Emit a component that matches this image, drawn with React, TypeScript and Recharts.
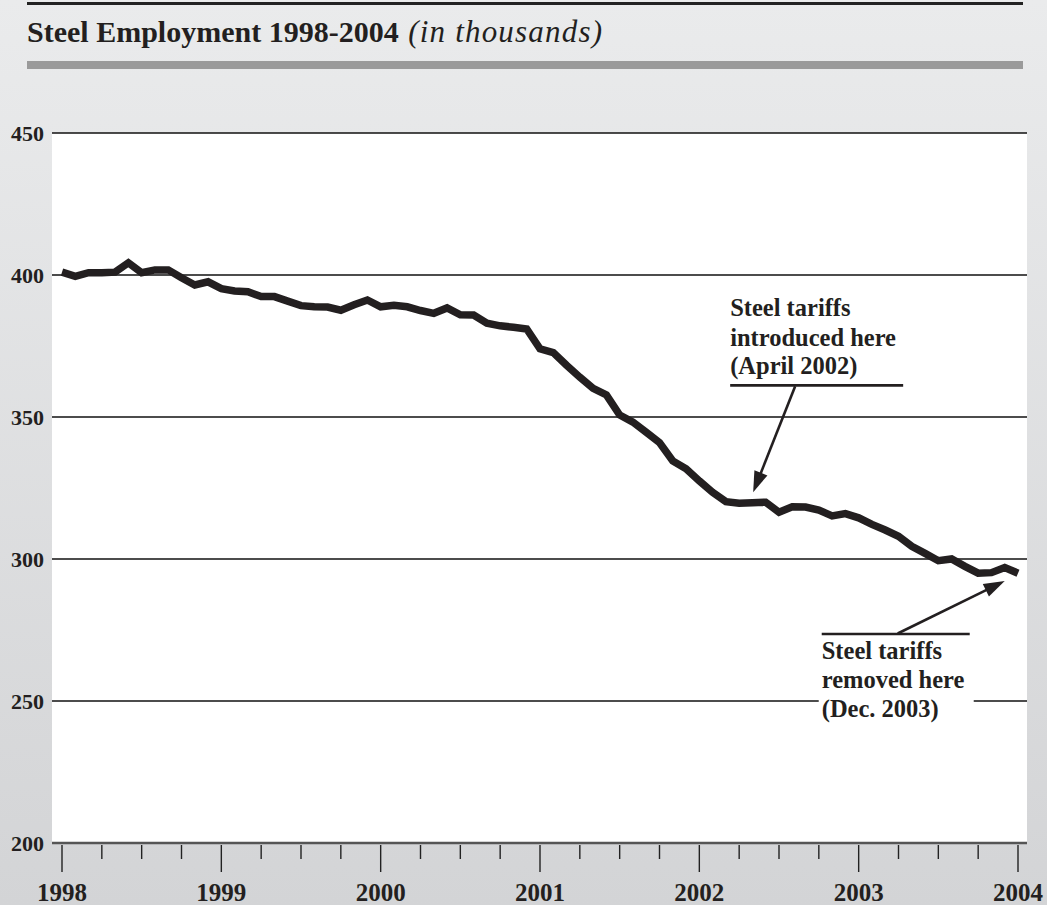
import { LineChart, Line, XAxis, YAxis, CartesianGrid, ReferenceDot } from "recharts";

// monthly steel employment, Jan 1998 .. Jan 2004 (thousands)
const EMPLOYMENT = [
  401, 399.5, 400.8, 400.8, 401, 404.3, 400.8, 401.8, 401.8, 399, 396.5, 397.6,
  395.2, 394.4, 394.1, 392.4, 392.4, 390.8, 389.2, 388.8, 388.7, 387.6, 389.5, 391.2,
  388.8, 389.3, 388.8, 387.5, 386.5, 388.4, 386, 385.9, 383, 382.1, 381.6, 381,
  374, 372.7, 368.2, 364, 360.1, 357.8, 350.7, 348.2, 344.6, 341, 334.5, 331.8,
  327.5, 323.5, 320.2, 319.6, 319.8, 320, 316.5, 318.4, 318.3, 317.2, 315.2, 316,
  314.5, 312.2, 310.2, 308, 304.5, 302, 299.4, 300, 297.4, 295, 295.2, 297,
  295,
];
const YEARS = ["1998", "1999", "2000", "2001", "2002", "2003", "2004"];
const Y_TICKS = [200, 250, 300, 350, 400, 450];
const QUARTER_TICKS = [0, 3, 6, 9, 12, 15, 18, 21, 24, 27, 30, 33, 36, 39, 42, 45, 48, 51, 54, 57, 60, 63, 66, 69, 72];
const TARIFF_IN = 51; // April 2002
const TARIFF_OUT = 71; // Dec 2003

const data = EMPLOYMENT.map((value, month) => ({ month, value }));

const INK = "#231f20";
const SERIF = "'Liberation Serif', 'Times New Roman', serif";

const MonthTick = ({ x, y, payload }: any) => {
  const m = payload.value;
  const major = m % 12 === 0;
  return (
    <g>
      <line x1={x} x2={x} y1={y + 2} y2={y + (major ? 29 : 16)} stroke="#222" strokeWidth={1.4} />
      {major && (
        <text x={x} y={y + 58} textAnchor="middle" fontFamily={SERIF} fontWeight="bold" fontSize={25} fill={INK}>
          {YEARS[m / 12]}
        </text>
      )}
    </g>
  );
};

const arrow = (x1: number, y1: number, x2: number, y2: number) => {
  const dx = x2 - x1;
  const dy = y2 - y1;
  const len = Math.hypot(dx, dy);
  const ux = dx / len;
  const uy = dy / len;
  const L = 21;
  const W = 7;
  const bx = x2 - ux * L;
  const by = y2 - uy * L;
  return (
    <g>
      <line x1={x1} y1={y1} x2={bx + ux * 2} y2={by + uy * 2} stroke={INK} strokeWidth={2.6} />
      <polygon
        points={`${x2},${y2} ${bx - uy * W},${by + ux * W} ${bx + uy * W},${by - ux * W}`}
        fill={INK}
      />
    </g>
  );
};

const noteText = { fontFamily: SERIF, fontWeight: "bold", fontSize: 24.5, fill: INK } as const;

const IntroducedNote = ({ cx, cy }: any) => (
  <g>
    <text x={cx - 9} y={cy - 187} {...noteText}>Steel tariffs</text>
    <text x={cx - 9} y={cy - 157} {...noteText}>introduced here</text>
    <text x={cx - 9} y={cy - 129} {...noteText}>(April 2002)</text>
    <line x1={cx - 9} x2={cx + 164} y1={cy - 118} y2={cy - 118} stroke={INK} strokeWidth={2.6} />
    {arrow(cx + 56, cy - 117, cx + 14, cy - 11)}
  </g>
);

const RemovedNote = ({ cx, cy }: any) => (
  <g>
    <rect x={cx - 186} y={cy + 124} width={155} height={18} fill="#fff" />
    <line x1={cx - 183} x2={cx - 35} y1={cy + 66.5} y2={cy + 66.5} stroke={INK} strokeWidth={2.6} />
    {arrow(cx - 107, cy + 66, cx, cy + 13.5)}
    <text x={cx - 183} y={cy + 91.5} {...noteText}>Steel tariffs</text>
    <text x={cx - 183} y={cy + 120.5} {...noteText}>removed here</text>
    <text x={cx - 183} y={cy + 149.5} {...noteText}>(Dec. 2003)</text>
  </g>
);

export default function App() {
  return (
    <div
      style={{
        position: "absolute",
        left: 0,
        top: 0,
        width: 1047,
        height: 905,
        background: "linear-gradient(#eaebec, #d3d4d6)",
        fontFamily: SERIF,
        color: INK,
      }}
    >
      <div style={{ position: "absolute", left: 27, top: 2, width: 996, height: 3, background: "#222" }} />
      <div
        style={{
          position: "absolute",
          left: 27,
          top: 16,
          fontSize: 30,
          lineHeight: 1,
          whiteSpace: "nowrap",
        }}
      >
        <b>Steel Employment 1998-2004</b>{" "}
        <i style={{ fontSize: 31, letterSpacing: 1.2, marginLeft: 2 }}>(in thousands)</i>
      </div>
      <div style={{ position: "absolute", left: 27, top: 61, width: 996, height: 8, background: "#9a9a9a" }} />
      <div style={{ position: "absolute", left: 0, top: 0 }}>
        <LineChart width={1047} height={905} data={data} margin={{ top: 133, right: 20, bottom: 0, left: 0 }}>
          <CartesianGrid vertical={false} fill="#fff" stroke="#111" strokeWidth={1.3} />
          <XAxis
            dataKey="month"
            type="number"
            domain={[0, 72]}
            ticks={QUARTER_TICKS}
            interval={0}
            padding={{ left: 10, right: 9 }}
            height={62}
            tickSize={0}
            tickMargin={0}
            tickLine={false}
            axisLine={{ stroke: "#555", strokeWidth: 2.5 }}
            tick={<MonthTick />}
          />
          <YAxis
            type="number"
            domain={[200, 450]}
            ticks={Y_TICKS}
            interval={0}
            width={52}
            tickSize={0}
            tickMargin={8}
            axisLine={false}
            tickLine={false}
            tick={{ fontFamily: SERIF, fontWeight: "bold", fontSize: 22, fill: INK }}
          />
          <Line
            dataKey="value"
            stroke={INK}
            strokeWidth={7.5}
            dot={false}
            isAnimationActive={false}
            strokeLinejoin="miter"
          />
          <ReferenceDot
            x={TARIFF_IN}
            y={EMPLOYMENT[TARIFF_IN]}
            r={0}
            shape={(p: any) => <IntroducedNote cx={p.cx} cy={p.cy} />}
          />
          <ReferenceDot
            x={TARIFF_OUT}
            y={EMPLOYMENT[TARIFF_OUT]}
            r={0}
            shape={(p: any) => <RemovedNote cx={p.cx} cy={p.cy} />}
          />
        </LineChart>
      </div>
    </div>
  );
}
